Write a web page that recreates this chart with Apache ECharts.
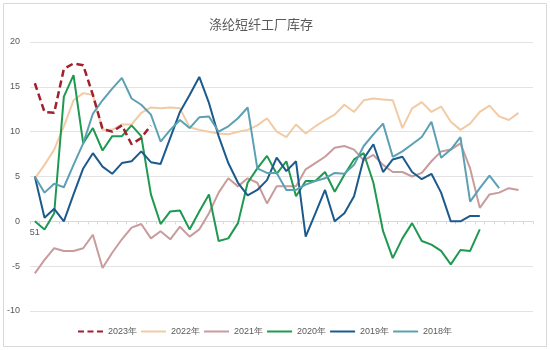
<!DOCTYPE html>
<html>
<head>
<meta charset="utf-8">
<script src="https://cdn.jsdelivr.net/npm/echarts@6/dist/echarts.min.js"></script>
<style>
  html, body { margin: 0; padding: 0; background: #fff; }
  #chart { width: 550px; height: 350px; }
</style>
</head>
<body>
<div id="chart"></div>
<script>
// Weekly polyester staple fibre factory inventory, one line per year
const weekLabels = ['51'].concat(Array.from({ length: 51 }, () => ''));

const yTicks = { min: -10, max: 20, interval: 5 };

const s2023 = [15.4, 12.2, 12.1, 17.0, 17.6, 17.4, 14.1, 10.3, 10.0, 10.7, 8.6, 9.3, 10.7];

const s2022 = [4.8, 6.3, 8.0, 10.6, 13.5, 14.3, 14.1, 10.2, 10.2, 10.8,
  10.8, 12.1, 12.7, 12.6, 12.7, 12.6, 10.5, 10.2, 10.0, 9.8,
  9.7, 10.0, 10.2, 10.7, 11.5, 10.0, 9.4, 10.8, 9.8, 10.6,
  11.3, 11.9, 13.0, 12.2, 13.5, 13.7, 13.6, 13.5, 10.4, 12.6,
  13.3, 12.2, 12.8, 11.1, 10.2, 10.9, 12.2, 12.9, 11.7, 11.3,
  12.1];

const s2021 = [-5.8, -4.3, -3.0, -3.3, -3.3, -3.0, -1.5, -5.2, -3.5, -2.0,
  -0.7, -0.3, -1.9, -1.1, -2.0, -0.6, -1.7, -0.9, 0.9, 3.2,
  4.8, 3.9, 4.8, 4.3, 2.0, 3.9, 3.9, 3.9, 5.8, 6.5,
  7.2, 8.2, 8.4, 8.0, 6.8, 7.4, 6.3, 5.5, 5.5, 5.0,
  5.4, 6.7, 7.8, 8.0, 8.7, 5.9, 1.5, 3.0, 3.2, 3.7,
  3.5];

const s2020 = [0.0, -0.9, 0.9, 13.9, 16.3, 8.7, 10.4, 7.9, 9.5, 9.5,
  10.7, 9.5, 3.0, -0.3, 1.1, 1.2, -0.9, 1.1, 3.0, -2.2,
  -1.9, -0.2, 4.3, 5.9, 7.3, 5.3, 6.7, 2.8, 4.5, 4.5,
  5.5, 3.3, 5.2, 6.9, 7.6, 4.3, -1.1, -4.1, -1.9, -0.2,
  -2.2, -2.6, -3.3, -4.8, -3.2, -3.3, -0.9];

const s2019 = [5.0, 0.4, 1.4, 0.0, 3.0, 5.9, 7.6, 6.1, 5.3, 6.5,
  6.7, 7.8, 6.6, 6.4, 9.3, 12.2, 14.1, 16.1, 13.2, 9.5,
  6.5, 4.3, 2.9, 3.5, 4.6, 7.1, 5.6, 6.7, -1.7, 0.9,
  3.5, 0.0, 0.9, 2.8, 7.0, 8.6, 5.5, 6.9, 7.2, 5.5,
  4.7, 5.3, 3.2, 0.0, 0.0, 0.6, 0.6];

const s2018 = [5.0, 3.2, 4.2, 3.8, 6.3, 8.7, 12.0, 13.5, 14.8, 16.0,
  13.7, 13.0, 11.9, 8.9, 10.2, 11.3, 10.4, 11.6, 11.7, 10.0,
  10.6, 11.5, 12.7, 5.9, 5.4, 5.4, 3.5, 3.5, 4.1, 4.5,
  4.8, 5.4, 5.3, 6.3, 8.4, 9.7, 10.9, 7.2, 7.8, 8.6,
  9.4, 11.1, 7.1, 8.0, 9.4, 2.2, 3.7, 5.1, 3.7];

const seriesDefs = [
  { name: '2023年', data: s2023, color: '#a21f2e', dashed: true, width: 2.5 },
  { name: '2022年', data: s2022, color: '#f1cba4', width: 2 },
  { name: '2021年', data: s2021, color: '#c99b9d', width: 2 },
  { name: '2020年', data: s2020, color: '#1f9850', width: 2 },
  { name: '2019年', data: s2019, color: '#1d5a8c', width: 2 },
  { name: '2018年', data: s2018, color: '#5ba1b3', width: 2 }
];

// plot area geometry
const grid = { left: 30, right: 17, top: 42, bottom: 39 };
const plotHeight = 350 - grid.top - grid.bottom;
// lift the category axis from the bottom edge up to the value 0
const zeroOffset = -plotHeight * (0 - yTicks.min) / (yTicks.max - yTicks.min);

// legend swatches: plain strokes, three short bars for the dashed year
const solidIcon = 'path://M0,0h25v2h-25z';
const dashIcon = 'path://M0,0h6v2h-6z M9.5,0h6v2h-6z M19,0h6v2h-6z';

const chart = echarts.init(document.getElementById('chart'), null, { renderer: 'canvas' });

chart.setOption({
  backgroundColor: '#ffffff',
  animation: false,
  title: {
    text: '涤纶短纤工厂库存',
    left: 204,
    top: 13,
    textStyle: {
      fontFamily: 'Noto Sans CJK SC',
      fontSize: 13,
      fontWeight: 'normal',
      color: '#595959'
    }
  },
  graphic: [{
    type: 'rect',
    shape: { x: 3.5, y: 3.5, width: 543, height: 343 },
    style: { fill: 'none', stroke: '#d9d9d9', lineWidth: 1 },
    silent: true,
    z: -1
  }],
  legend: {
    bottom: 9,
    left: 73,
    itemWidth: 25,
    itemHeight: 2,
    itemGap: 4,
    textStyle: { fontFamily: 'Liberation Sans', fontSize: 9, color: '#595959' },
    data: seriesDefs.map(d => ({ name: d.name, icon: d.dashed ? dashIcon : solidIcon }))
  },
  grid: grid,
  xAxis: {
    type: 'category',
    data: weekLabels,
    boundaryGap: true,
    offset: zeroOffset,
    axisLine: { onZero: false, lineStyle: { color: '#d9d9d9', width: 1 } },
    axisTick: { show: true, length: 3, lineStyle: { color: '#d9d9d9' } },
    axisLabel: {
      interval: 0,
      fontFamily: 'Liberation Sans',
      fontSize: 9,
      color: '#595959',
      margin: 7
    }
  },
  yAxis: {
    type: 'value',
    min: yTicks.min,
    max: yTicks.max,
    interval: yTicks.interval,
    axisLine: { show: false },
    axisTick: { show: false },
    splitLine: { lineStyle: { color: '#e3e3e3', width: 1 } },
    axisLabel: {
      fontFamily: 'Liberation Sans',
      fontSize: 9,
      color: '#595959',
      margin: 10
    }
  },
  series: seriesDefs.map(d => ({
    name: d.name,
    type: 'line',
    data: d.data,
    symbol: 'none',
    color: d.color,
    lineStyle: {
      color: d.color,
      width: d.width,
      type: d.dashed ? [7, 4] : 'solid'
    },
    z: d.dashed ? 10 : 2
  }))
});
</script>
</body>
</html>
